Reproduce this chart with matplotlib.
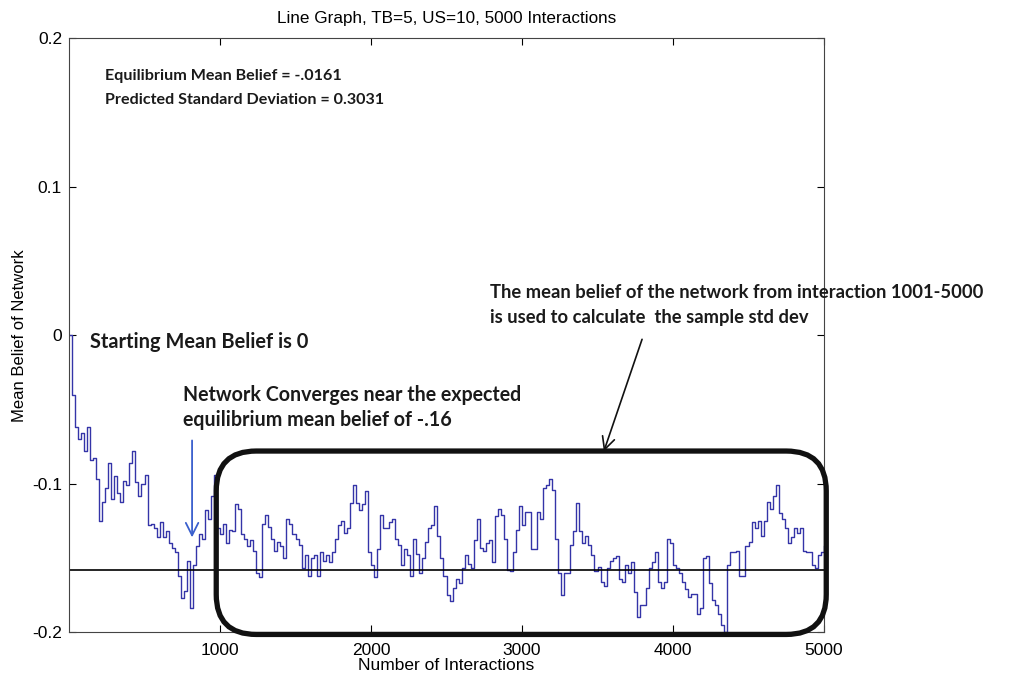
import numpy as np
import matplotlib
matplotlib.use("Agg")
import matplotlib.pyplot as plt
from matplotlib.patches import FancyBboxPatch

# mean belief of the network, sampled every 20 interactions (0..5000)
step = 20
belief = [
    0.000, -0.040, -0.062, -0.070, -0.066, -0.078, -0.062, -0.084, -0.083, -0.097,
    -0.125, -0.112, -0.103, -0.086, -0.110, -0.095, -0.106, -0.112, -0.098, -0.101,
    -0.086, -0.078, -0.099, -0.108, -0.100, -0.094, -0.128, -0.127, -0.130, -0.136,
    -0.126, -0.136, -0.132, -0.140, -0.143, -0.146, -0.162, -0.177, -0.172, -0.152,
    -0.184, -0.155, -0.142, -0.134, -0.137, -0.118, -0.124, -0.108, -0.094, -0.130,
    -0.134, -0.127, -0.140, -0.131, -0.132, -0.114, -0.117, -0.134, -0.137, -0.142,
    -0.138, -0.145, -0.160, -0.163, -0.127, -0.121, -0.129, -0.137, -0.145, -0.139,
    -0.142, -0.150, -0.124, -0.127, -0.134, -0.137, -0.141, -0.157, -0.148, -0.162,
    -0.150, -0.148, -0.162, -0.146, -0.152, -0.148, -0.153, -0.146, -0.137, -0.128,
    -0.125, -0.133, -0.130, -0.113, -0.101, -0.113, -0.118, -0.114, -0.105, -0.146,
    -0.155, -0.163, -0.144, -0.121, -0.130, -0.130, -0.126, -0.124, -0.137, -0.141,
    -0.155, -0.144, -0.148, -0.162, -0.137, -0.147, -0.160, -0.150, -0.139, -0.130,
    -0.128, -0.115, -0.135, -0.150, -0.162, -0.175, -0.179, -0.170, -0.164, -0.167,
    -0.157, -0.148, -0.154, -0.157, -0.138, -0.124, -0.143, -0.145, -0.140, -0.138,
    -0.153, -0.122, -0.117, -0.121, -0.137, -0.158, -0.159, -0.146, -0.131, -0.115,
    -0.128, -0.119, -0.119, -0.144, -0.144, -0.119, -0.124, -0.103, -0.101, -0.097,
    -0.104, -0.137, -0.160, -0.175, -0.160, -0.160, -0.141, -0.132, -0.113, -0.132,
    -0.140, -0.135, -0.141, -0.148, -0.159, -0.156, -0.166, -0.169, -0.157, -0.152,
    -0.150, -0.149, -0.164, -0.166, -0.155, -0.160, -0.153, -0.173, -0.190, -0.182,
    -0.182, -0.170, -0.157, -0.153, -0.146, -0.166, -0.170, -0.166, -0.137, -0.140,
    -0.155, -0.157, -0.160, -0.166, -0.171, -0.176, -0.174, -0.174, -0.188, -0.184,
    -0.150, -0.149, -0.167, -0.178, -0.182, -0.188, -0.195, -0.200, -0.155, -0.146,
    -0.146, -0.145, -0.162, -0.162, -0.142, -0.139, -0.126, -0.130, -0.125, -0.135,
    -0.125, -0.112, -0.117, -0.108, -0.101, -0.120, -0.124, -0.130, -0.140, -0.136,
    -0.130, -0.133, -0.130, -0.145, -0.146, -0.146, -0.155, -0.157, -0.148, -0.146,
    -0.142,
]
interactions = np.arange(len(belief)) * step

equilibrium = -0.158
x_ticks = [1000, 2000, 3000, 4000, 5000]
y_ticks = [-0.2, -0.1, 0, 0.1, 0.2]
y_ticklabels = ["-0.2", "-0.1", "0", "0.1", "0.2"]

plain = "Liberation Sans"
bold = "Lato"

fig = plt.figure(figsize=(10.30, 6.82), dpi=100)
ax = fig.add_axes([0.067, 0.073, 0.733, 0.871])

ax.plot(interactions, belief, drawstyle="steps-post", color="#3434a8", lw=1.0)
ax.plot([0, 5000], [equilibrium, equilibrium], color="black", lw=1.2)

ax.set_xlim(0, 5000)
ax.set_ylim(-0.2, 0.2)
ax.set_xticks(x_ticks)
ax.set_yticks(y_ticks)
ax.set_yticklabels(y_ticklabels)
ax.tick_params(direction="in", length=5, width=0.8, top=True, right=True,
               labelsize=12.5, pad=5)
ax.tick_params(axis="x", pad=8)
for lab in ax.get_xticklabels() + ax.get_yticklabels():
    lab.set_family(plain)
for s in ax.spines.values():
    s.set_color("#444444")
    s.set_linewidth(0.8)

ax.set_title("Line Graph, TB=5, US=10, 5000 Interactions", fontsize=12.3,
             family=plain, pad=11)
ax.set_xlabel("Number of Interactions", fontsize=12.5, family=plain, labelpad=0)
ax.set_ylabel("Mean Belief of Network", fontsize=12, family=plain, labelpad=4)

# rounded box around the sampling window (1001-5000)
ax_w = ax.get_position().width * fig.get_figwidth() * fig.dpi
ax_h = ax.get_position().height * fig.get_figheight() * fig.dpi
xu_per_px = 5000 / ax_w
yu_per_px = 0.4 / ax_h
box = FancyBboxPatch((975, -0.2015), 5015 - 975, -0.078 + 0.2015,
                     boxstyle="round,pad=0,rounding_size=%f" % (40 * xu_per_px),
                     mutation_aspect=yu_per_px / xu_per_px,
                     fill=False, ec="#111111", lw=3.8, clip_on=False, zorder=4)
ax.add_patch(box)

# arrows
ax.annotate("", xy=(815, -0.138), xytext=(815, -0.069),
            arrowprops=dict(arrowstyle="->,head_length=0.9,head_width=0.45",
                            color="#3a5fcd", lw=1.3))
ax.annotate("", xy=(3536, -0.080), xytext=(3801, -0.001),
            arrowprops=dict(arrowstyle="->,head_length=0.9,head_width=0.45",
                            color="#111111", lw=1.2))

W, H = 1030, 682


def note(x, y, s, size):
    fig.text(x / W, 1 - y / H, s, fontsize=size, family=bold, weight="bold",
             color="#1a1a1a", va="center", ha="left")


note(105, 76, "Equilibrium Mean Belief = -.0161", 11.6)
note(105, 100, "Predicted Standard Deviation = 0.3031", 11.6)
note(90, 342, "Starting Mean Belief is 0", 14.4)
note(183, 395, "Network Converges near the expected", 14.1)
note(183, 420, "equilibrium mean belief of -.16", 14.1)
note(490, 292, "The mean belief of the network from interaction 1001-5000", 13.2)
note(490, 318, "is used to calculate  the sample std dev", 13.2)

fig.savefig("out.png", dpi=100)
